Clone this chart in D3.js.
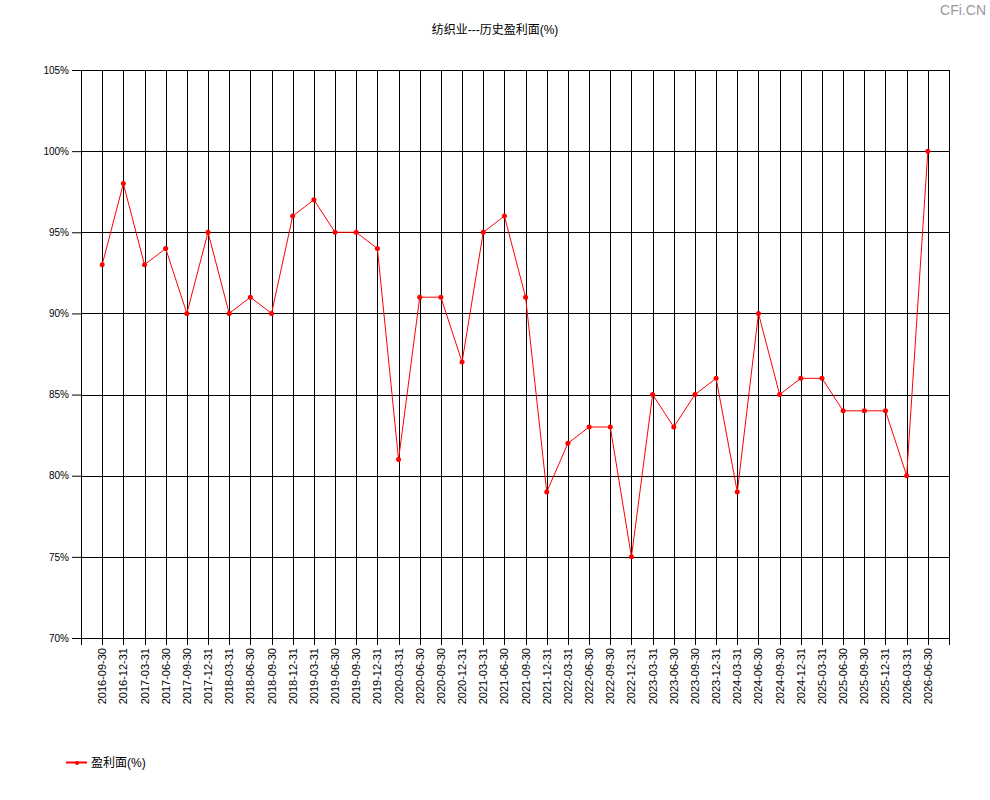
<!DOCTYPE html>
<html>
<head>
<meta charset="utf-8">
<script src="https://cdn.jsdelivr.net/npm/d3@7/dist/d3.min.js"></script>
<style>
  body { margin: 0; background: #fff; }
  text { font-family: "Liberation Sans", Arial, "Noto Sans CJK SC", sans-serif; }
</style>
</head>
<body>
<div id="chart"></div>
<script>
const dates = [
  "2016-09-30", "2016-12-31", "2017-03-31", "2017-06-30", "2017-09-30", "2017-12-31",
  "2018-03-31", "2018-06-30", "2018-09-30", "2018-12-31", "2019-03-31", "2019-06-30",
  "2019-09-30", "2019-12-31", "2020-03-31", "2020-06-30", "2020-09-30", "2020-12-31",
  "2021-03-31", "2021-06-30", "2021-09-30", "2021-12-31", "2022-03-31", "2022-06-30",
  "2022-09-30", "2022-12-31", "2023-03-31", "2023-06-30", "2023-09-30", "2023-12-31",
  "2024-03-31", "2024-06-30", "2024-09-30", "2024-12-31", "2025-03-31", "2025-06-30",
  "2025-09-30", "2025-12-31", "2026-03-31", "2026-06-30"
];
const profitShare = [
  93, 98, 93, 94, 90, 95,
  90, 91, 90, 96, 97, 95,
  95, 94, 81, 91, 91, 87,
  95, 96, 91, 79, 82, 83,
  83, 75, 85, 83, 85, 86,
  79, 90, 85, 86, 86, 84,
  84, 84, 80, 100
];
const yTicks = [70, 75, 80, 85, 90, 95, 100, 105];

const width = 990, height = 800;
const mLeft = 81, mRight = 949, mTop = 70, mBottom = 638;

const svg = d3.select("#chart").append("svg")
    .attr("width", width)
    .attr("height", height);

const x = d3.scalePoint().domain(dates).range([mLeft, mRight]).padding(1);
const y = d3.scaleLinear().domain([70, 105]).range([mBottom, mTop]);

// titel + watermerk
svg.append("text")
    .attr("x", 495).attr("y", 34)
    .attr("text-anchor", "middle")
    .attr("font-size", 12)
    .text("纺织业---历史盈利面(%)");

svg.append("text")
    .attr("x", 986).attr("y", 15)
    .attr("text-anchor", "end")
    .attr("font-size", 14)
    .attr("fill", "#999")
    .text("CFi.CN");

// y as met tickjes
const yAxis = svg.append("g")
    .attr("transform", `translate(${mLeft},0)`)
    .call(d3.axisLeft(y).tickValues(yTicks).tickSize(9).tickFormat(d => d + "%"));
yAxis.select(".domain").remove();
yAxis.selectAll("line").attr("stroke", "#000");
yAxis.selectAll("text").attr("font-size", 10).attr("x", -12).attr("fill", "#000");

// horizontale rasterlijnen
svg.append("g").selectAll("line")
    .data(yTicks)
    .join("line")
    .attr("x1", mLeft).attr("x2", mRight)
    .attr("y1", d => Math.round(y(d)) + 0.5)
    .attr("y2", d => Math.round(y(d)) + 0.5)
    .attr("stroke", "#000");

// verticale lijnen per datum
svg.append("g").selectAll("line")
    .data(dates)
    .join("line")
    .attr("x1", d => Math.round(x(d)) + 0.5)
    .attr("x2", d => Math.round(x(d)) + 0.5)
    .attr("y1", mTop).attr("y2", mBottom + 7)
    .attr("stroke", "#000");

// rand links/rechts
[mLeft, mRight].forEach(px => {
    svg.append("line")
        .attr("x1", px + 0.5).attr("x2", px + 0.5)
        .attr("y1", mTop).attr("y2", mBottom + 7)
        .attr("stroke", "#000");
});

// x labels
svg.append("g").selectAll("text")
    .data(dates)
    .join("text")
    .attr("transform", d => `translate(${Math.round(x(d)) + 4},${mBottom + 10}) rotate(-90)`)
    .attr("text-anchor", "end")
    .attr("font-size", 11)
    .text(d => d);

// lijn
const line = d3.line()
    .x((d, i) => x(dates[i]))
    .y(d => y(d));

svg.append("path")
    .datum(profitShare)
    .attr("d", line)
    .attr("fill", "none")
    .attr("stroke", "#ff0000")
    .attr("stroke-width", 1);

svg.append("g").selectAll("circle")
    .data(profitShare)
    .join("circle")
    .attr("cx", (d, i) => x(dates[i]))
    .attr("cy", d => y(d))
    .attr("r", 2.5)
    .attr("fill", "#ff0000");

// legenda
const lg = svg.append("g").attr("transform", "translate(66,762)");
lg.append("line").attr("x1", 0).attr("x2", 21).attr("y1", 0.5).attr("y2", 0.5)
    .attr("stroke", "#ff0000").attr("stroke-width", 2);
lg.append("circle").attr("cx", 11).attr("cy", 1).attr("r", 2).attr("fill", "#ff0000");
lg.append("text").attr("x", 25).attr("y", 4.5)
    .attr("font-size", 12)
    .text("盈利面(%)");
</script>
</body>
</html>
